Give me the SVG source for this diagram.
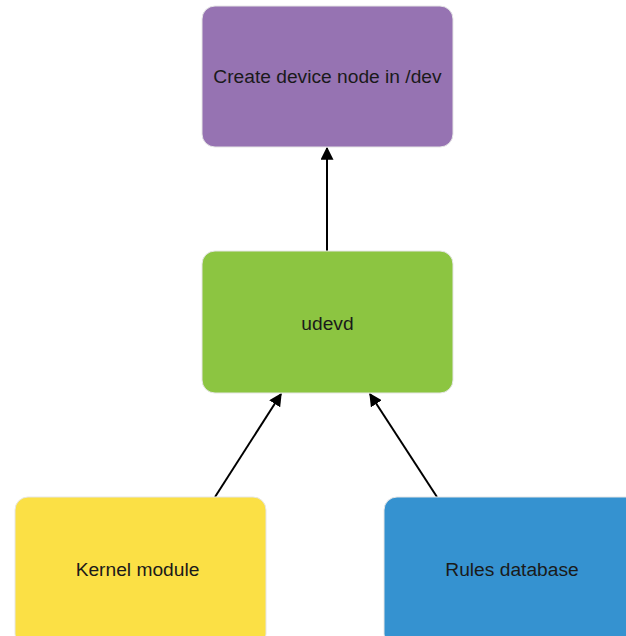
<svg xmlns="http://www.w3.org/2000/svg" width="626" height="636" viewBox="0 0 626 636">
<defs>
<style>
.n{stroke:#e6e6e6;stroke-width:1}
.t{font-family:"Liberation Sans",Arial,sans-serif;font-size:19.2px;fill:#1a1a1a;text-anchor:middle;dominant-baseline:central}
.c{stroke:#000;stroke-width:2;fill:none;marker-end:url(#ah)}
</style>
<marker id="ah" viewBox="0 0 10 10" refX="9" refY="5" markerWidth="6.5" markerHeight="6.5" orient="auto" markerUnits="strokeWidth">
<path d="M0,0L10,5L0,10z" fill="#000"/>
</marker>
</defs>
<rect width="626" height="636" fill="#fff"/>
<g id="connectors">
<line class="c" x1="327" y1="251" x2="327" y2="148"/>
<line class="c" x1="215" y1="497" x2="281" y2="394"/>
<line class="c" x1="437" y1="497" x2="370" y2="394"/>
</g>
<g id="create-device-node">
<rect class="n" x="202" y="6" width="251" height="141" rx="13" fill="#9673b2"/>
<text class="t" x="327.5" y="76">Create device node in /dev</text>
</g>
<g id="udevd">
<rect class="n" x="202" y="251" width="251" height="142" rx="13" fill="#8cc541"/>
<text class="t" x="327.5" y="323">udevd</text>
</g>
<g id="kernel-module">
<rect class="n" x="15" y="497" width="251" height="150" rx="13" fill="#fbe045"/>
<text class="t" x="137.5" y="569">Kernel module</text>
</g>
<g id="rules-database">
<rect class="n" x="384" y="497" width="256" height="150" rx="13" fill="#3592d0"/>
<text class="t" x="512" y="569">Rules database</text>
</g>
</svg>
